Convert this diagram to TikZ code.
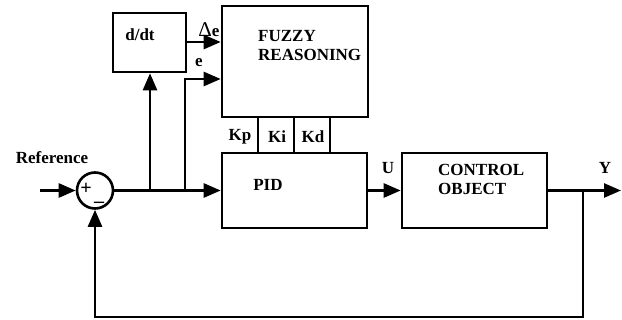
\documentclass[tikz,border=0pt]{standalone}
\usepackage{fontspec}
\setmainfont{Liberation Serif}
\usetikzlibrary{arrows.meta}
\begin{document}
\begin{tikzpicture}[x=1pt,y=-1pt,
  blk/.style={draw,line width=2.6pt,inner sep=0pt},
  lbl/.style={font=\bfseries\fontsize{17}{19}\selectfont,inner sep=0pt},
  sgn/.style={font=\bfseries\fontsize{20}{20}\selectfont,inner sep=0pt},
  wire/.style={line width=2.6pt},
  arr/.style={line width=2.6pt,-{Triangle[length=17pt,width=14pt]}},
  ]
\useasboundingbox (0,0) rectangle (622,320);
% blocks
\node[blk,minimum width=73pt,minimum height=59pt] (ddt) at (149.5,42.5) {};
\node[blk,minimum width=146pt,minimum height=111pt] (fuzzy) at (295,61.5) {};
\node[blk,minimum width=145pt,minimum height=75pt] (pid) at (294.5,190.5) {};
\node[blk,minimum width=145pt,minimum height=75pt] (ctrl) at (474.5,190.5) {};
\node[draw,circle,line width=2.6pt,minimum size=36pt,inner sep=0pt] (sum) at (95,190.5) {};
% texts
\node[lbl] (tddt) at (140,35) {d/dt};
\node[lbl,align=left,anchor=north west] (tfuzzy) at (258,30) {FUZZY\\REASONING};
\node[lbl] (tpid) at (268,185) {PID};
\node[lbl,align=left,anchor=north west] (tctrl) at (438,164) {CONTROL\\OBJECT};
\node[lbl] (tref) at (52,158) {Reference};
\node[lbl] (tkp) at (240,137) {Kp};
\node[lbl] (tki) at (277,137) {Ki};
\node[lbl] (tkd) at (313,137) {Kd};
\node[lbl] (tu) at (388,168) {U};
\node[lbl] (ty) at (605,168) {Y};
\node[lbl] (tde) at (209,30) {{\mdseries\fontsize{21}{21}\selectfont Δ}e};
\node[lbl] (te) at (199,63) {e};
\node[sgn] (tplus) at (86,188.5) {+};
\node[sgn] (tminus) at (99,204.5) {\textendash};
% coordinates
\coordinate (in) at (40,190.5);
\coordinate (b1) at (150,190.5);
\coordinate (b2) at (185,190.5);
\coordinate (eup) at (185,79);
\coordinate (fb) at (583,190.5);
\coordinate (fbd) at (583,317);
\coordinate (fbl) at (95,317);
\coordinate (out) at (621,190.5);
% K lines
\draw[wire] (258,117) -- (258,153);
\draw[wire] (294,117) -- (294,153);
\draw[wire] (330,117) -- (330,153);
% connectors
\draw[arr] (in) -- (sum.west);
\draw[arr] (sum.east) -- (pid.west |- sum.east);
\draw[arr] (b1) -- (ddt.south -| b1);
\draw[arr] (b2) -- (eup) -- (fuzzy.west |- eup);
\draw[arr] (ddt.east |- 0,42) -- (fuzzy.west |- 0,42);
\draw[arr] (pid.east) -- (ctrl.west);
\draw[arr] (ctrl.east) -- (out);
\draw[arr] (fb) -- (fbd) -- (fbl) -- (sum.south);
\end{tikzpicture}
\end{document}
